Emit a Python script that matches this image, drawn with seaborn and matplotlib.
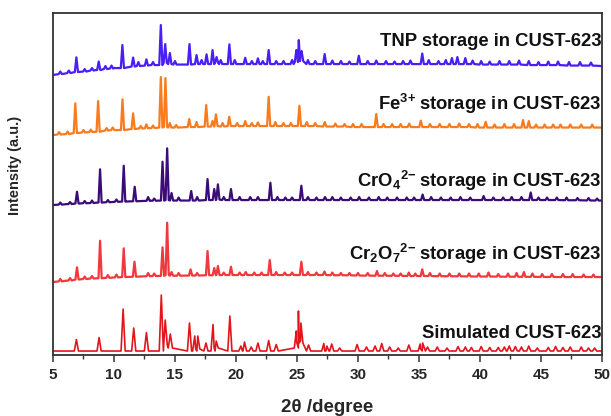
import numpy as np
import pandas as pd
import matplotlib
matplotlib.use("Agg")
import matplotlib.pyplot as plt
import seaborn as sns

# ---------------------------------------------------------------------------
# PXRD patterns: peak positions (2theta, degree), local floor and apex level
# (intensity above each pattern's own zero, a.u.), plus background knots.
# ---------------------------------------------------------------------------
samples = ["Simulated CUST-623", "Cr2O7 storage", "CrO4 storage", "Fe3+ storage", "TNP storage"]
labels = [
    "Simulated CUST-623",
    r"Cr$_2$O$_7$$^{2\!-\!\!}$ storage in CUST-623",
    r"CrO$_4$$^{2\!-\!\!}$ storage in CUST-623",
    r"Fe$^{3\!+\!\!}$ storage in CUST-623",
    "TNP storage in CUST-623",
]
stack_offset = [4, 73, 150, 220, 280]

# --- Simulated CUST-623 -----------------------------------------------------
sim_bg_x = [5, 50]
sim_bg_y = [0, 0]
sim_pos = [6.92, 8.78, 10.75, 11.62, 12.66, 13.88, 14.2, 14.62, 16.19, 16.62, 16.87, 17.54,
           18.12, 18.38, 19.5, 20.4, 20.7, 21.25, 21.8, 22.68, 23.3, 24.95, 25.12, 25.32,
           25.95, 27.2, 27.45, 27.85, 28.5, 29.93, 30.7, 31.4, 31.95, 32.6, 33.3, 34.17,
           35.1, 35.3, 35.7, 36.5, 37.3, 38.2, 38.8, 39.3, 40.1, 40.8, 41.5, 42.0, 42.4,
           42.9, 43.4, 44.0, 44.7, 45.6, 46.2, 46.8, 47.4, 48.3, 48.9, 49.4]
sim_floor = [0, 0, 0, 0, 0, 0, 6, 3, 0, 0, 2, 0,
             0, 3, 0, 0, 0, 0, 0, 0, 0, 3, 10, 8,
             0, 0, 0, 0, 0, 0, 0, 0, 0, 0, 0, 0,
             0, 2, 0, 0, 0, 0, 0, 0, 0, 0, 0, 0, 0,
             0, 0, 0, 0, 0, 0, 0, 0, 0, 0, 0]
sim_top = [11.5, 13.5, 42, 23, 18.5, 56, 31, 17, 28, 15, 15, 8,
           26.5, 10, 35, 5, 9, 4, 8, 10.5, 6.5, 20, 40, 28,
           6, 7.5, 5, 7, 3, 6.5, 4, 5, 7.5, 4, 3, 6,
           7, 8, 4, 4, 3, 4.5, 4, 3.5, 4.5, 3.5, 3.5, 4, 5,
           4.5, 4, 5, 3, 3.5, 4.5, 3.5, 4, 4, 3, 3]

# --- Cr2O7^2- storage in CUST-623 -------------------------------------------
dic_bg_x = [5, 6, 7, 8.5, 11, 13, 16, 20, 25, 30, 40, 50]
dic_bg_y = [0, 1.2, 2.5, 3.7, 5, 6, 6.5, 7, 7, 6.5, 5.5, 5]
dic_pos = [5.6, 6.4, 6.97, 7.6, 8.2, 8.86, 9.5, 10.2, 10.8, 11.68, 12.8, 13.3, 13.98, 14.36,
           14.72, 15.3, 16.28, 16.82, 17.67, 18.22, 18.52, 19.0, 19.59, 20.3, 20.8, 21.5,
           22.1, 22.77, 23.3, 24.0, 24.6, 25.36, 25.9, 26.6, 27.25, 27.9, 28.6, 29.3, 30.0,
           30.8, 31.56, 32.2, 32.9, 33.5, 34.17, 34.7, 35.27, 35.9, 36.7, 37.5, 38.3, 39.1,
           39.9, 40.7, 41.5, 42.3, 43.0, 43.6, 44.3, 45.1, 45.9, 46.8, 47.6, 48.5, 49.3]
dic_floor = [0.6, 1.5, 2.5, 3, 3.5, 3.8, 4.2, 4.6, 5, 5.3, 5.8, 6, 6.2, 7,
             6.3, 6.3, 6.5, 6.5, 6.8, 6.8, 7, 7, 7, 7, 7, 7,
             7, 7, 7, 7, 7, 7, 7, 7, 7, 6.8, 6.8, 6.7, 6.5,
             6.4, 6.3, 6.3, 6.2, 6.2, 6, 6, 6, 6, 5.8, 5.8, 5.7, 5.6,
             5.5, 5.5, 5.4, 5.3, 5.3, 5.2, 5.2, 5.1, 5.1, 5, 5, 5, 5]
dic_top = [3, 4, 14.7, 5.5, 6, 41.3, 7, 7.5, 33.7, 20.3, 9, 8.5, 34.7, 59.3,
           10, 9, 12.7, 9, 31, 14, 16, 9.5, 15.3, 9.5, 10, 9.5,
           9.5, 22, 10, 9.5, 9.5, 20.3, 10, 9.5, 10.5, 9.5, 9, 9, 9,
           9, 11, 9, 8.5, 8.5, 9.5, 8.5, 12.7, 9, 8.5, 8.5, 8.5, 8.5,
           8.5, 9.5, 8, 8.5, 9, 10, 8.5, 8, 8, 8, 8, 7.5, 7.5]

# --- CrO4^2- storage in CUST-623 --------------------------------------------
chr_bg_x = [5, 6, 7, 8.5, 11, 13, 16, 20, 30, 40, 50]
chr_bg_y = [0, 0.8, 1.5, 2.3, 3.5, 4.3, 4.5, 5, 5, 5, 4.5]
chr_pos = [5.6, 6.4, 6.97, 7.6, 8.2, 8.86, 9.5, 10.2, 10.8, 11.7, 12.8, 13.3, 13.98, 14.36,
           14.72, 15.3, 16.33, 16.82, 17.67, 18.22, 18.52, 19.0, 19.59, 20.3, 21.17, 21.8,
           22.82, 23.4, 24.05, 24.6, 25.36, 25.9, 26.6, 27.3, 27.9, 28.6, 29.4, 30.1, 30.9,
           31.7, 32.4, 33.2, 34.0, 34.6, 35.3, 36.0, 36.8, 37.6, 38.4, 39.2, 40.3, 41.1,
           41.9, 42.6, 43.4, 44.16, 44.8, 45.5, 46.3, 47.1, 48.0, 48.9, 49.6]
chr_floor = [0.4, 1, 1.5, 1.8, 2, 2.5, 2.8, 3.2, 3.5, 3.8, 4.2, 4.3, 4.5, 5,
             4.5, 4.5, 4.5, 4.5, 5, 5, 5.5, 5, 5, 5, 5, 5,
             5, 5, 5, 5, 5, 5, 5, 5, 5, 5, 5, 5, 5,
             5, 5, 5, 5, 5, 5, 5, 5, 5, 5, 5, 5, 5,
             5, 5, 5, 5, 5, 5, 5, 4.8, 4.8, 4.6, 4.5]
chr_top = [2.5, 3, 13.3, 4, 4.5, 35.7, 5, 5.5, 39.3, 18.3, 8, 6.5, 43.3, 56.7,
           12, 7.5, 14, 8, 26, 16, 20.7, 8, 16, 8, 8, 8,
           22.3, 8, 7.5, 7.5, 19.3, 8, 7.5, 8, 8, 7.5, 7.5, 8, 7.5,
           8, 7.5, 7.5, 7.5, 7.5, 10.5, 8, 7.5, 7.5, 8, 7.5, 9, 7.5,
           7.5, 8, 8, 12.5, 7.5, 7.5, 7.5, 7.5, 7, 7, 6.5]

# --- Fe3+ storage in CUST-623 -----------------------------------------------
fe_bg_x = [5, 6, 7, 8.5, 10, 12, 13, 16, 20, 25, 30, 35, 40, 50]
fe_bg_y = [0, 1, 2, 3.3, 5, 6.5, 7, 8, 9, 9, 8, 8, 7.5, 7.5]
fe_pos = [5.5, 6.2, 6.83, 7.5, 8.1, 8.7, 9.4, 9.9, 10.7, 11.57, 12.2, 12.66, 13.2, 13.84,
          14.22, 14.58, 15.1, 16.17, 16.77, 17.56, 18.08, 18.36, 18.9, 19.45, 20.1, 20.76,
          21.3, 21.8, 22.68, 23.23, 23.9, 24.5, 25.2, 25.8, 26.5, 27.28, 28.15, 28.9, 29.6,
          30.3, 31.5, 32.1, 32.8, 33.5, 34.2, 35.15, 35.9, 36.7, 37.5, 38.3, 39.1, 39.8,
          40.47, 41.2, 42.0, 42.8, 43.53, 44.0, 44.6, 45.3, 46.0, 46.6, 47.4, 48.3, 49.2]
fe_floor = [0.5, 1, 2, 2.5, 3, 3.3, 4.5, 5, 5, 6, 6.5, 6.8, 7, 7.5,
            8, 7.5, 7.5, 8, 8, 8.5, 8.5, 9, 8.5, 9, 9, 9,
            9, 9, 9, 9, 9, 9, 9, 9, 9, 8.5, 8.5, 8.5, 8,
            8, 8, 8, 8, 8, 8, 8, 8, 8, 8, 8, 8, 7.5,
            7.5, 7.5, 7.5, 7.5, 7.5, 7.5, 7.5, 7.5, 7.5, 7.5, 7.5, 7.5, 7.5]
fe_top = [3, 3.5, 31.7, 5, 5.5, 34, 7, 7.5, 35.7, 21.7, 9, 10.7, 9.5, 58,
          57, 12, 10, 16, 13, 30, 14, 20.7, 12, 18.3, 12, 14,
          12, 12.7, 38.3, 13, 12, 12, 29.3, 13, 12, 13, 11.5, 11, 11,
          11, 21, 11, 11, 11, 11.5, 14.5, 11, 11, 11, 11.5, 11, 11,
          13.3, 10.5, 11, 11, 15, 14, 10.5, 10.5, 10.5, 10.5, 10.5, 10.5, 10.5]

# --- TNP storage in CUST-623 ------------------------------------------------
tnp_bg_x = [5, 6, 7, 8.5, 10, 11.5, 13, 15, 20, 30, 35, 40, 45, 50]
tnp_bg_y = [0, 1.5, 3, 5, 7, 8.5, 10, 10.5, 11, 11, 11, 10.5, 10, 9]
tnp_pos = [5.6, 6.3, 6.92, 7.6, 8.2, 8.75, 9.3, 9.8, 10.69, 11.57, 12.0, 12.66, 13.2, 13.84,
           14.2, 14.58, 15.0, 16.19, 16.77, 17.18, 17.59, 18.08, 18.41, 18.75, 19.46, 19.9,
           20.76, 21.3, 21.8, 22.2, 22.68, 23.3, 23.9, 24.6, 24.95, 25.15, 25.38, 25.9, 26.5,
           27.27, 27.9, 28.6, 29.3, 30.07, 30.8, 31.5, 32.3, 33.0, 33.7, 34.3, 35.27, 35.8,
           36.6, 37.2, 37.7, 38.15, 38.8, 39.4, 40.1, 40.8, 41.6, 42.4, 43.2, 44.0, 44.8,
           45.6, 46.4, 47.3, 48.2, 49.1]
tnp_floor = [1, 2, 3, 3.5, 4.5, 5, 6, 6.5, 7, 8.5, 9, 9.5, 10, 10,
             12, 11, 10.5, 10.5, 11, 11, 11, 11, 12, 11, 11, 11,
             11, 11, 11, 11, 11, 11, 11, 11, 13, 20, 14, 11, 11,
             11, 11, 11, 11, 11, 11, 11, 11, 11, 11, 11, 11, 11,
             11, 11, 11, 11, 11, 11, 10.5, 10.5, 10.5, 10.5, 10.5, 10, 10,
             10, 10, 9.5, 9.5, 9.5]
tnp_top = [3.5, 4.5, 17.7, 6, 7, 13.5, 9, 9.5, 30, 17.5, 13, 15.7, 13, 50,
           31, 22, 14, 31, 20, 15, 20.7, 25, 18, 15, 30.7, 15,
           17.3, 14, 16.7, 14, 25, 14, 14, 15, 25, 35, 24, 15, 14,
           21, 14.5, 14, 13.5, 19.3, 14, 14.5, 14, 13.5, 14, 14.5, 21.5, 15,
           14, 15, 17, 18, 17, 14.5, 14, 13.5, 14, 14, 14.5, 14, 13,
           13.5, 13.5, 13, 13, 12.5]

colors = ["#E3151B", "#F0393D", "#3B0C78", "#F97B1E", "#4A1EF5"]
widths = [1.2, 1.6, 1.6, 1.6, 1.6]
half_width = [0.17, 0.13, 0.13, 0.13, 0.13]
label_y = [17, 95, 168, 245, 309]

patterns = [
    (sim_bg_x, sim_bg_y, sim_pos, sim_floor, sim_top),
    (dic_bg_x, dic_bg_y, dic_pos, dic_floor, dic_top),
    (chr_bg_x, chr_bg_y, chr_pos, chr_floor, chr_top),
    (fe_bg_x, fe_bg_y, fe_pos, fe_floor, fe_top),
    (tnp_bg_x, tnp_bg_y, tnp_pos, tnp_floor, tnp_top),
]


def build_trace(bg_x, bg_y, pos, floor, top, w):
    """Polyline through background knots and triangular reflections."""
    pos = np.asarray(pos, float)
    xs, ys = [], []
    for bx, by in zip(bg_x, bg_y):
        if np.all(np.abs(pos - bx) > w):
            xs.append(bx)
            ys.append(by)
    for p, f, t in zip(pos, floor, top):
        xs += [p - w, p, p + w]
        ys += [f, t, f]
    xs = np.asarray(xs)
    ys = np.asarray(ys)
    order = np.argsort(xs, kind="stable")
    return xs[order], ys[order]


frames = []
for name, off, w, (bx, by, p, f, t) in zip(samples, stack_offset, half_width, patterns):
    x, y = build_trace(bx, by, p, f, t, w)
    frames.append(pd.DataFrame({"angle": x, "intensity": y + off, "sample": name}))
df = pd.concat(frames, ignore_index=True)

sns.set_theme(style="ticks")
plt.rcParams["font.family"] = ["Liberation Sans", "DejaVu Sans"]
plt.rcParams["font.weight"] = "bold"
plt.rcParams["mathtext.fontset"] = "custom"
plt.rcParams["mathtext.rm"] = "Liberation Sans:bold"
plt.rcParams["mathtext.it"] = "Liberation Sans:bold"
plt.rcParams["mathtext.bf"] = "Liberation Sans:bold"
plt.rcParams["mathtext.default"] = "bf"

fig = plt.figure(figsize=(6.11, 4.16), dpi=100)
ax = fig.add_axes([0.0867, 0.1466, 0.8985, 0.822])

for name, col, lw in zip(samples, colors, widths):
    sns.lineplot(data=df[df["sample"] == name], x="angle", y="intensity",
                 color=col, linewidth=lw, estimator=None, sort=False, ax=ax)

for text, ty in zip(labels, label_y):
    ax.text(49.95, ty, text, ha="right", va="baseline", fontsize=13.3,
            fontweight="bold", color="#111111")

ax.set_xlim(5, 50)
ax.set_ylim(0, 342)
ax.set_xticks(np.arange(5, 51, 5))
ax.set_xticks(np.arange(7.5, 50, 5), minor=True)
ax.set_yticks([])
ax.tick_params(axis="x", which="major", direction="out", length=5, width=1.1,
               labelsize=11, pad=4, color="#333333")
ax.tick_params(axis="x", which="minor", direction="out", length=3, width=1.0,
               color="#333333")
for lab in ax.get_xticklabels():
    lab.set_fontweight("bold")
for sp in ax.spines.values():
    sp.set_visible(True)
    sp.set_color("#333333")
    sp.set_linewidth(1.3)

ax.set_xlabel("2θ /degree", fontsize=13.5, fontweight="bold")
ax.set_ylabel("Intensity (a.u.)", fontsize=10.5, fontweight="bold")
ax.xaxis.set_label_coords(0.5, -0.13)
ax.yaxis.set_label_coords(-0.056, 0.555)

fig.savefig("out.png", dpi=100)
